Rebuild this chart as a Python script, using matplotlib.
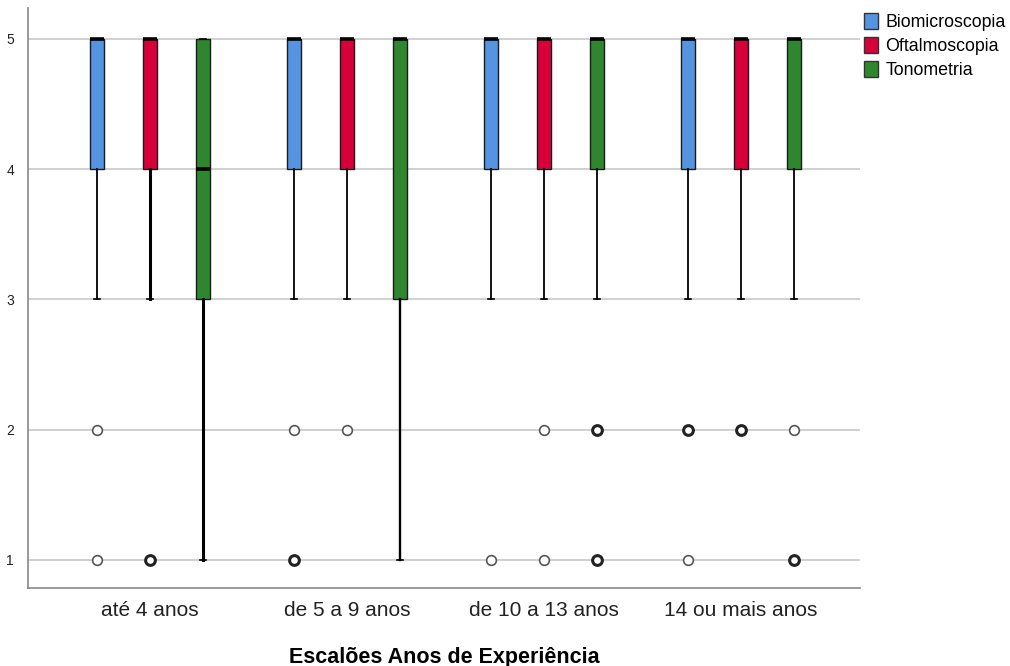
from collections import Counter

import matplotlib
matplotlib.use("Agg")
import matplotlib.pyplot as plt
from matplotlib.patches import Patch

plt.rcParams["font.family"] = ["Liberation Sans", "DejaVu Sans"]

# --- dados ----------------------------------------------------------
grupos = ["até 4 anos", "de 5 a 9 anos", "de 10 a 13 anos", "14 ou mais anos"]
exames = ["Biomicroscopia", "Oftalmoscopia", "Tonometria"]
cores = ["#5594e0", "#d7003a", "#2e872e"]

# por grupo: [Bio, Oft, Ton]
q1 = [[4, 4, 3], [4, 4, 3], [4, 4, 4], [4, 4, 4]]
mediana = [[5, 5, 4], [5, 5, 5], [5, 5, 5], [5, 5, 5]]
q3 = [[5, 5, 5], [5, 5, 5], [5, 5, 5], [5, 5, 5]]
whis_lo = [[3, 3, 1], [3, 3, 1], [3, 3, 3], [3, 3, 3]]
whis_hi = [[5, 5, 5], [5, 5, 5], [5, 5, 5], [5, 5, 5]]
# valores atípicos (repetidos = vários casos no mesmo ponto)
atipicos = [
    [[2, 1], [1, 1], []],
    [[2, 1, 1], [2], []],
    [[1], [2, 1], [2, 2, 1, 1]],
    [[2, 2, 1], [2, 2], [2, 1, 1]],
]

# espessura dos bigodes (estilo)
esp_bigode = [[1.3, 2.2, 2.2], [1.3, 1.3, 1.7], [1.3, 1.3, 1.3], [1.3, 1.3, 1.3]]

# --- figura ---------------------------------------------------------
fig = plt.figure(figsize=(10.1, 6.66), dpi=100)
ax = fig.add_axes([28 / 1010, 1 - 588 / 666, 832 / 1010, 580 / 666])

desloc = [-0.269, 0.0, 0.269]
largura = 0.071

for g in range(len(grupos)):
    for e in range(len(exames)):
        pos = g + desloc[e]
        st = dict(med=mediana[g][e], q1=q1[g][e], q3=q3[g][e],
                  whislo=whis_lo[g][e], whishi=whis_hi[g][e], fliers=[])
        ax.bxp([st], positions=[pos], widths=largura, capwidths=0.026,
               patch_artist=True, showfliers=False,
               boxprops=dict(facecolor=cores[e], edgecolor="#1a1a1a", linewidth=1.0),
               medianprops=dict(color="black", linewidth=2.6),
               whiskerprops=dict(color="black", linewidth=esp_bigode[g][e]),
               capprops=dict(color="black", linewidth=1.2),
               zorder=3)
        for valor, n in Counter(atipicos[g][e]).items():
            ax.plot([pos], [valor], marker="o", ms=7, mfc="white",
                    mec="#222222" if n > 1 else "#555555",
                    mew=2.2 if n > 1 else 1.2, ls="none", zorder=4)

ax.set_xlim(-0.619, 3.604)
ax.set_ylim(0.785, 5.238)
ax.set_yticks([1, 2, 3, 4, 5])
ax.set_xticks(range(len(grupos)), grupos)
ax.yaxis.grid(True, color="#c8c8c8", linewidth=1.2, zorder=0)
ax.set_axisbelow(True)
ax.tick_params(length=0)
ax.tick_params(axis="x", labelsize=15, pad=9, colors="#222222")
ax.tick_params(axis="y", labelsize=10, pad=10, colors="#222222")
for lado in ("top", "right"):
    ax.spines[lado].set_visible(False)
for lado in ("left", "bottom"):
    ax.spines[lado].set_color("#888888")
    ax.spines[lado].set_linewidth(1.2)

ax.set_xlabel("Escalões Anos de Experiência", fontsize=15.5, fontweight="bold",
              va="center")
ax.xaxis.set_label_coords(0.5, (588 - 657) / 580)

legenda = [Patch(facecolor=c, edgecolor="#333333", label=l)
           for c, l in zip(cores, exames)]
fig.legend(handles=legenda, loc="upper left", bbox_to_anchor=(864 / 1010, 1 - 13 / 666),
           frameon=False, fontsize=12.8, handlelength=0.8, handleheight=1.0,
           handletextpad=0.4, labelspacing=0.33, borderaxespad=0, borderpad=0)

fig.savefig("out.png", dpi=100)
